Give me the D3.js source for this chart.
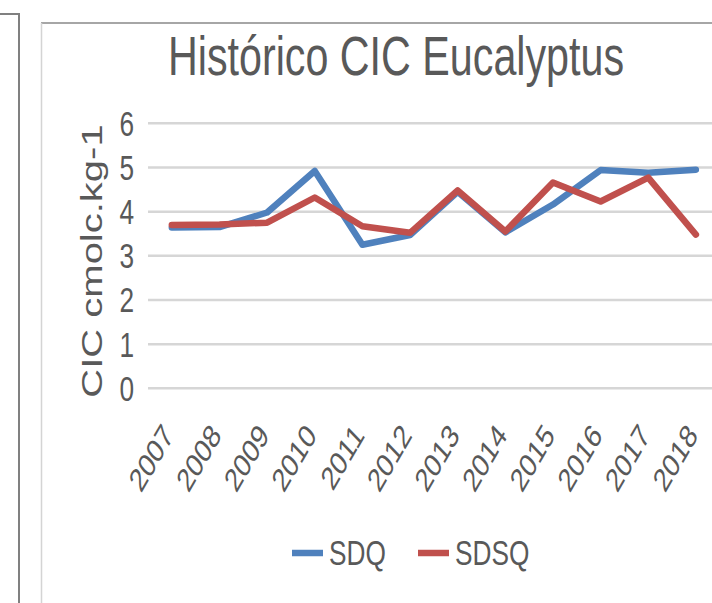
<!DOCTYPE html>
<html lang="pt">
<head>
<meta charset="UTF-8">
<title>Histórico CIC Eucalyptus</title>
<script src="https://d3js.org/d3.v7.min.js"></script>
<style>
    body { margin: 0; background: #fff; }
    svg { display: block; }
    text { font-family: "Liberation Sans", Arial, sans-serif; fill: #595959; }
</style>
</head>
<body>
<svg width="712" height="603"></svg>

<script>
    // chart data
    const years = ["2007", "2008", "2009", "2010", "2011", "2012",
                   "2013", "2014", "2015", "2016", "2017", "2018"];
    const sdq  = [3.64, 3.65, 3.98, 4.92, 3.25, 3.47, 4.45, 3.53, 4.16, 4.94, 4.88, 4.95];
    const sdsq = [3.70, 3.71, 3.75, 4.32, 3.67, 3.52, 4.48, 3.55, 4.66, 4.23, 4.77, 3.48];
    const yTicks = [0, 1, 2, 3, 4, 5, 6];
    const seriesNames = ["SDQ", "SDSQ"];
    const colors = ["#4f81bd", "#c0504d"];

    const svg = d3.select("svg");
    const sx = 0.75; // the picture is squeezed sideways, text too

    // frames
    svg.append("path").attr("d", "M0,14H19V603")
        .attr("fill", "none").attr("stroke", "#808080").attr("stroke-width", 2);
    svg.append("line").attr("x1", 41).attr("x2", 712).attr("y1", 23).attr("y2", 23)
        .attr("stroke", "#a6a6a6").attr("stroke-width", 2);
    svg.append("line").attr("x1", 41.5).attr("x2", 41.5).attr("y1", 23).attr("y2", 603)
        .attr("stroke", "#d4d4d4").attr("stroke-width", 1.5);

    // title
    svg.append("text")
        .attr("transform", `translate(396,75) scale(${sx},1)`)
        .attr("text-anchor", "middle")
        .attr("font-size", 55)
        .text("Histórico CIC Eucalyptus");

    // scales
    const x = d3.scalePoint().domain(years).range([148, 719.7]).padding(0.5);
    const y = d3.scaleLinear().domain([0, 6]).range([388.3, 123.3]);

    // gridlines
    svg.append("g").selectAll("line")
        .data(yTicks)
        .join("line")
        .attr("x1", 148).attr("x2", 712)
        .attr("y1", d => y(d)).attr("y2", d => y(d))
        .attr("stroke", "#d6d6d6").attr("stroke-width", 2.5);

    // y tick labels
    svg.append("g").selectAll("text")
        .data(yTicks)
        .join("text")
        .attr("transform", d => `translate(134,${y(d) + 12.5}) scale(${sx},1)`)
        .attr("text-anchor", "end")
        .attr("font-size", 35)
        .text(d => d);

    // y axis title
    svg.append("text")
        .attr("transform", `translate(102,261) scale(${sx},1) rotate(-90)`)
        .attr("text-anchor", "middle")
        .attr("font-size", 40)
        .text("CIC cmolc.kg-1");

    // x tick labels
    svg.append("g").selectAll("text")
        .data(years)
        .join("text")
        .attr("transform", d => `translate(${x(d) + 3},436) scale(${sx},1) rotate(-52)`)
        .attr("text-anchor", "end")
        .attr("font-size", 33)
        .text(d => d);

    // lines
    const line = d3.line()
        .x((d, i) => x(years[i]))
        .y(d => y(d));

    svg.append("g").selectAll("path")
        .data([sdq, sdsq])
        .join("path")
        .attr("d", line)
        .attr("fill", "none")
        .attr("stroke", (d, i) => colors[i])
        .attr("stroke-width", 6.5)
        .attr("stroke-linejoin", "round")
        .attr("stroke-linecap", "round");

    // legend
    const legendX = [292, 418];
    const legend = svg.append("g").selectAll("g")
        .data(seriesNames)
        .join("g")
        .attr("transform", (d, i) => `translate(${legendX[i]},553)`);
    legend.append("line")
        .attr("x1", 0).attr("x2", 31)
        .attr("stroke", (d, i) => colors[i])
        .attr("stroke-width", 6.5);
    legend.append("text")
        .attr("transform", `translate(37,12) scale(${sx},1)`)
        .attr("font-size", 35)
        .text(d => d);
</script>
</body>
</html>
